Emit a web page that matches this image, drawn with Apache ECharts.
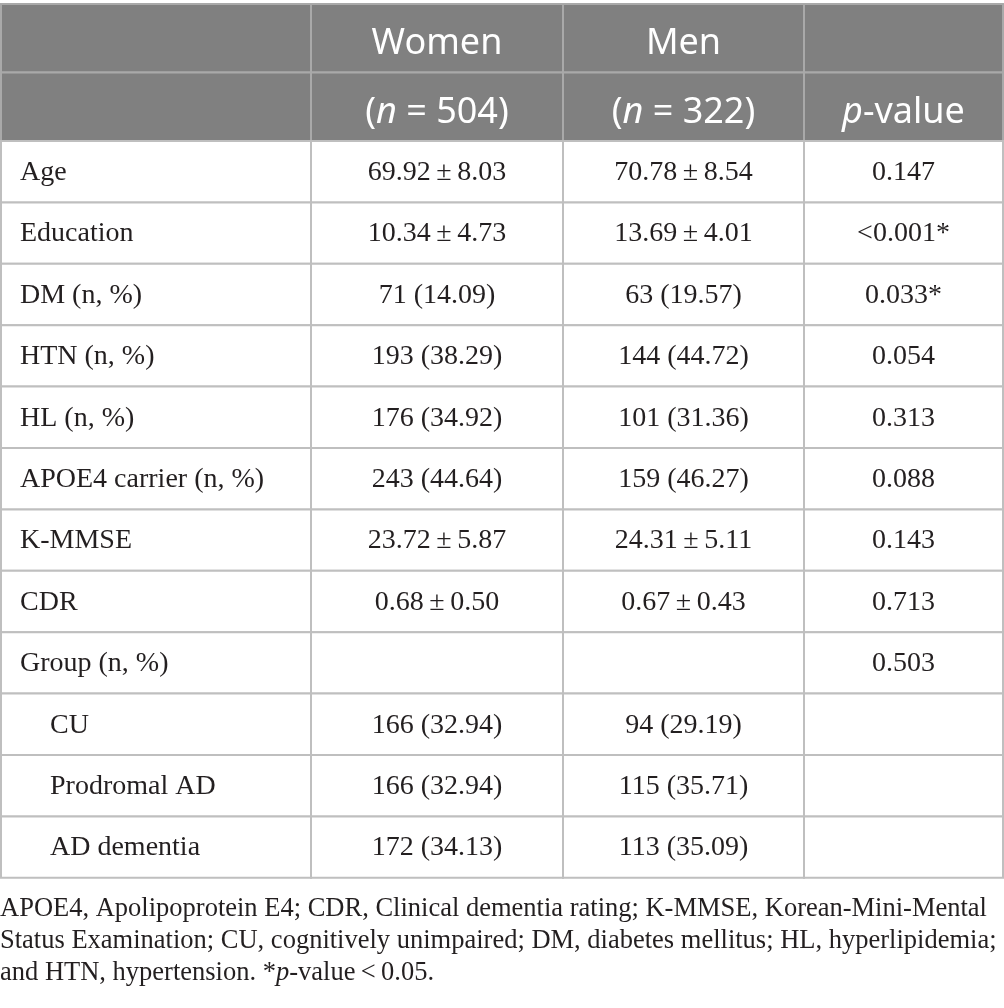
<!DOCTYPE html>
<html>
<head>
<meta charset="utf-8">
<script src="https://cdn.jsdelivr.net/npm/echarts@6/dist/echarts.min.js"></script>
<style>
  html, body { margin: 0; padding: 0; background: #fff; }
  #chart { width: 1004px; height: 1008px; }
</style>
</head>
<body>
<div id="chart"></div>
<script>
// ---- table content ----
const headerTop = ["", "Women", "Men", ""];
const headerSub = ["", "({i|n} = 504)", "({i|n} = 322)", "{i|p}-value"];
const rowLabels = ["Age", "Education", "DM (n, %)", "HTN (n, %)", "HL (n, %)",
  "APOE4 carrier (n, %)", "K-MMSE", "CDR", "Group (n, %)",
  "CU", "Prodromal AD", "AD dementia"];
const womenVals = ["69.92\u2009±\u20098.03", "10.34\u2009±\u20094.73", "71 (14.09)", "193 (38.29)",
  "176 (34.92)", "243 (44.64)", "23.72\u2009±\u20095.87", "0.68\u2009±\u20090.50", "",
  "166 (32.94)", "166 (32.94)", "172 (34.13)"];
const menVals = ["70.78\u2009±\u20098.54", "13.69\u2009±\u20094.01", "63 (19.57)", "144 (44.72)",
  "101 (31.36)", "159 (46.27)", "24.31\u2009±\u20095.11", "0.67\u2009±\u20090.43", "",
  "94 (29.19)", "115 (35.71)", "113 (35.09)"];
const pValues = ["0.147", "<0.001*", "0.033*", "0.054", "0.313", "0.088", "0.143",
  "0.713", "0.503", "", "", ""];
const subgroupRows = ["CU", "Prodromal AD", "AD dementia"];
const footLines = [
  "APOE4, Apolipoprotein E4; CDR, Clinical dementia rating; K-MMSE, Korean-Mini-Mental",
  "Status Examination; CU, cognitively unimpaired; DM, diabetes mellitus; HL, hyperlipidemia;",
  "and HTN, hypertension. *{i|p}-value\u2009<\u20090.05."
];

// ---- layout (axis units = px) ----
const colEdges = [0, 310, 562, 803, 1002];
const headerRowH = 68.5;
const bodyRowH = 61.4;
const rowEdges = [0, headerRowH, headerRowH * 2];
rowLabels.forEach((_, i) => rowEdges.push(headerRowH * 2 + (i + 1) * bodyRowH));
const tableH = rowEdges[rowEdges.length - 1];

const SANS = "'Noto Sans', sans-serif";
const SERIF = "'Liberation Serif', 'Times New Roman', serif";
const INK = "#231f20";

// build cell list
const cells = [];
[headerTop, headerSub].forEach((row, r) => {
  row.forEach((t, c) => cells.push({ c, r, text: t, head: true }));
});
rowLabels.forEach((lab, i) => {
  const r = i + 2;
  cells.push({ c: 0, r, text: lab, indent: subgroupRows.includes(lab) });
  cells.push({ c: 1, r, text: womenVals[i] });
  cells.push({ c: 2, r, text: menVals[i] });
  cells.push({ c: 3, r, text: pValues[i] });
});

const chart = echarts.init(document.getElementById("chart"));

chart.setOption({
  animation: false,
  title: {
    text: footLines.join("\n"),
    left: 0,
    top: 893,
    padding: 0,
    textStyle: {
      fontFamily: SERIF, fontSize: 26.5, fontWeight: "normal", color: INK, lineHeight: 32,
      rich: { i: { fontFamily: SERIF, fontSize: 26.5, fontStyle: "italic", color: INK, lineHeight: 32 } }
    }
  },
  grid: { left: 1, top: 4, width: 1002, height: tableH },
  xAxis: { type: "value", min: 0, max: 1002, show: false },
  yAxis: { type: "value", min: 0, max: tableH, inverse: true, show: false },
  series: [{
    type: "custom",
    data: cells.map(d => [d.c, d.r]),
    renderItem: function (params, api) {
      const d = cells[params.dataIndex];
      const p0 = api.coord([colEdges[d.c], rowEdges[d.r]]);
      const p1 = api.coord([colEdges[d.c + 1], rowEdges[d.r + 1]]);
      const w = p1[0] - p0[0], h = p1[1] - p0[1];
      const left = d.c === 0 && !d.head;
      const tx = left ? p0[0] + (d.indent ? 49 : 19) : p0[0] + w / 2;
      const font = d.head ? SANS : SERIF;
      const size = d.head ? 36 : 28;
      const fill = d.head ? "#fff" : INK;
      const dy = d.head ? (d.r === 0 ? 5 : 6) : 1;
      return {
        type: "group",
        children: [
          {
            type: "rect",
            shape: { x: p0[0], y: p0[1], width: w, height: h },
            style: { fill: d.head ? "#808080" : "#fff", stroke: d.head ? "#a9a9a9" : "#bfbfbf", lineWidth: 2 }
          },
          {
            type: "text",
            style: {
              text: d.text, x: tx, y: p0[1] + h / 2 + dy,
              align: left ? "left" : "center", verticalAlign: "middle",
              fontFamily: font, fontSize: size, fill: fill,
              rich: { i: { fontFamily: font, fontSize: size, fontStyle: "italic", fill: fill } }
            }
          }
        ]
      };
    }
  }]
});
</script>
</body>
</html>
